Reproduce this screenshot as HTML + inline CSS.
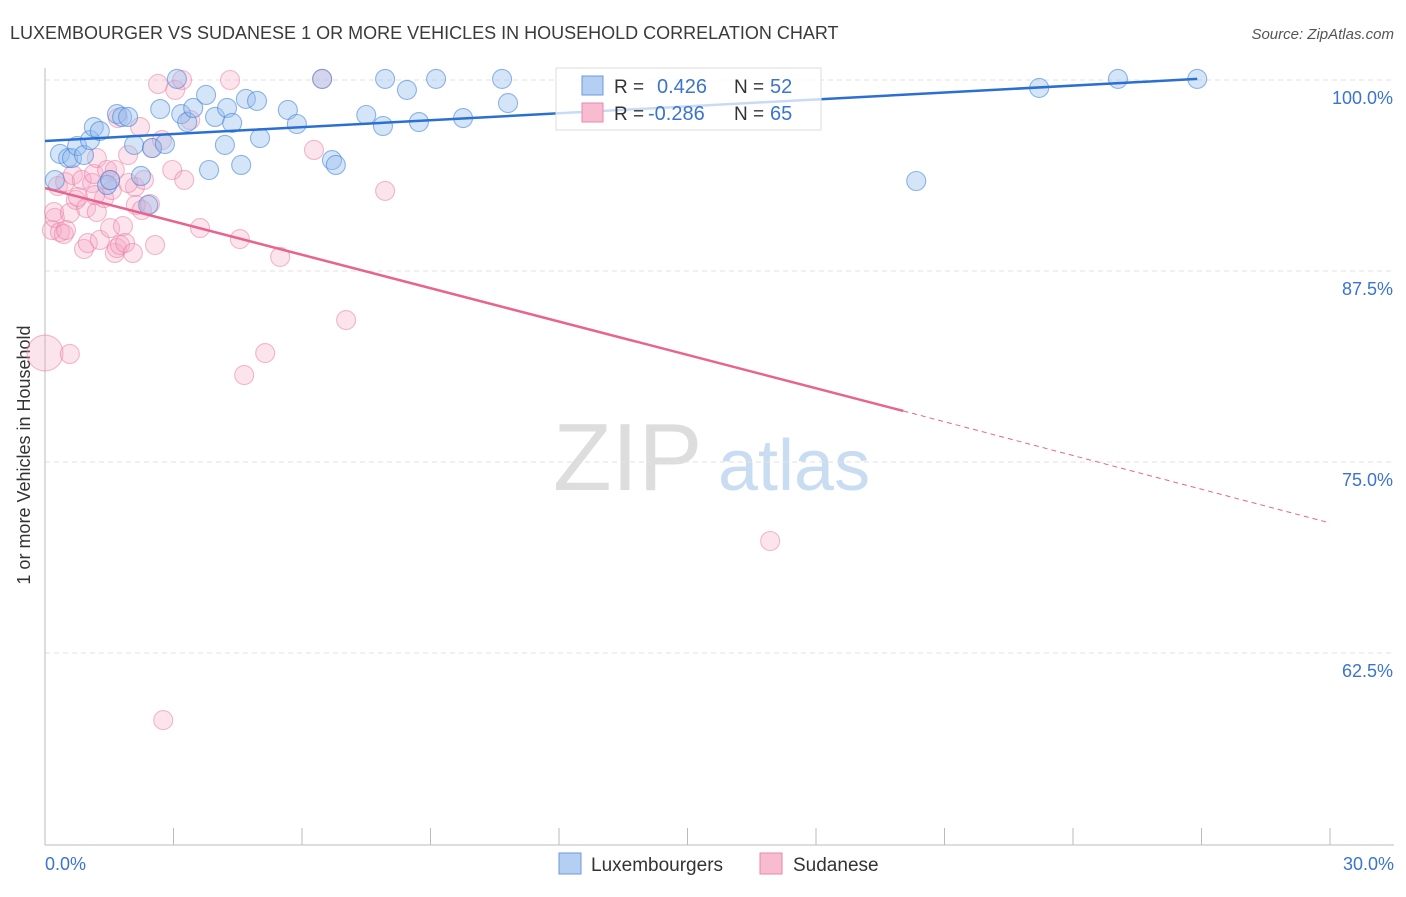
<!DOCTYPE html>
<html><head><meta charset="utf-8"><style>
body{margin:0;background:#fff;font-family:"Liberation Sans",sans-serif;}
svg text{font-family:"Liberation Sans",sans-serif;}
</style></head><body>
<svg id="c" width="1406" height="892">
<text x="10" y="39" font-size="18" fill="#3a3a3a">LUXEMBOURGER VS SUDANESE 1 OR MORE VEHICLES IN HOUSEHOLD CORRELATION CHART</text>
<text x="1394" y="39" font-size="15" fill="#555" font-style="italic" text-anchor="end">Source: ZipAtlas.com</text>
<text x="30" y="455" font-size="18" fill="#333" transform="rotate(-90 30 455)" text-anchor="middle">1 or more Vehicles in Household</text>
<g><text x="553" y="490" font-size="96" font-family="Liberation Serif,serif" fill="#ddd">ZIP</text><text x="718" y="490" font-size="72" fill="#c8dcf2">atlas</text></g>
<g id="grid"></g><g id="marks"></g><g id="lines"></g>
<g>
<rect x="556" y="68" width="265" height="62" fill="rgba(255,255,255,0.75)" stroke="#ddd"/>
<rect x="582" y="76" width="21" height="19" fill="#b4cff2" stroke="#6b9ae0"/>
<rect x="582" y="103" width="21" height="19" fill="#f7bcd0" stroke="#e889a9"/>
<text x="614" y="93" font-size="19" fill="#333">R = </text><text x="657" y="93" font-size="20" fill="#3b73d0">0.426</text>
<text x="734" y="93" font-size="19" fill="#333">N = </text><text x="770" y="93" font-size="20" fill="#3b73d0">52</text>
<text x="614" y="120" font-size="19" fill="#333">R = </text><text x="648" y="120" font-size="20" fill="#3b73d0">-0.286</text>
<text x="734" y="120" font-size="19" fill="#333">N = </text><text x="770" y="120" font-size="20" fill="#3b73d0">65</text>
</g>
<g>
<rect x="559" y="853" width="22" height="21" fill="#b4cff2" stroke="#6b9ae0"/><text x="591" y="871" font-size="19" fill="#333">Luxembourgers</text>
<rect x="760" y="853" width="22" height="21" fill="#f7bcd0" stroke="#e889a9"/><text x="793" y="871" font-size="19" fill="#333">Sudanese</text>
</g>
</svg>
<script>
const yTicks=[100,87.5,75,62.5];
const yTickLabels=["100.0%","87.5%","75.0%","62.5%"];
const xTickLabels=["0.0%","30.0%"];
const blueX=[.23,.35,.54,.63,.75,.91,1.05,1.14,1.28,1.68,1.80,1.94,1.45,1.52,2.08,2.24,2.41,2.50,2.80,2.69,3.08,3.18,3.32,3.46,3.76,3.83,3.97,4.20,4.25,4.37,4.58,4.69,4.95,5.02,5.67,5.88,6.47,6.70,6.79,7.50,7.89,7.94,8.45,8.73,9.13,9.76,10.67,10.81,20.34,23.21,25.05,26.90];
const blueY=[93.45,95.16,94.89,94.89,95.68,95.09,96.07,96.92,96.66,97.77,97.58,97.58,93.13,93.45,95.75,93.72,91.82,95.55,95.81,98.10,100.07,97.77,97.25,98.17,99.02,94.11,97.58,95.75,98.17,97.19,94.44,98.76,98.63,96.20,98.04,97.12,100.07,94.76,94.44,97.71,96.99,100.07,99.35,97.25,100.07,97.51,100.07,98.49,93.39,99.48,100.07,100.07];
const pinkX=[0,.16,.23,.21,.30,.35,.44,.47,.58,.58,.65,.72,.77,.86,.91,.96,1.00,1.10,1.14,1.21,1.21,1.28,1.38,1.45,1.52,1.56,1.63,1.68,1.70,1.75,1.82,1.87,1.94,2.05,2.10,2.12,2.22,2.26,2.31,2.50,2.57,2.64,2.73,2.76,2.97,3.04,3.20,3.25,3.39,3.62,4.32,4.55,4.65,5.14,5.49,6.28,6.47,7.03,7.94,16.93,1.94,1.17,1.63,2.45,1.52,.49];
const pinkY=[82.13,90.18,90.97,91.36,93.06,90.05,89.92,93.32,91.30,82.07,93.78,92.15,92.34,93.46,88.94,91.62,89.33,93.26,93.85,94.89,91.36,89.53,92.28,94.11,90.31,92.80,88.68,89.00,97.51,89.20,90.44,89.33,95.09,88.68,93.00,91.82,96.92,91.49,93.46,95.55,89.20,99.74,96.07,58.11,94.11,99.35,100,93.46,97.38,90.31,100,89.59,80.69,82.13,88.42,95.42,100.07,84.29,92.74,69.83,93.26,92.47,94.11,91.88,93.46,90.18];
const blueTrend=[[0,96.01],[26.9,100.07]];
const pinkTrend=[[0,92.93],[20.04,78.34],[30,71.01]];
const X=v=>45+v/30*1285, Y=v=>80+(100-v)/12.5*191;
const NS="http://www.w3.org/2000/svg";
function mk(tag,attrs,parent){const e=document.createElementNS(NS,tag);for(const k in attrs)e.setAttribute(k,attrs[k]);document.getElementById(parent).appendChild(e);return e;}
yTicks.forEach((t,i)=>{
 const l=mk('line',{x1:45,x2:1394,y1:Y(t),y2:Y(t),stroke:'#e2e2e2','stroke-dasharray':'5,4'},'grid');
 
 
 const tx=mk('text',{x:1393,y:Y(t)+24,'font-size':18,fill:'#3b73d0','text-anchor':'end'},'grid');tx.textContent=yTickLabels[i];
 
 
});
let a=mk('line',{x1:45,x2:45,y1:68,y2:845,stroke:'#bbb'},'grid');


a=mk('line',{x1:45,x2:1394,y1:845,y2:845,stroke:'#bbb'},'grid');


for(let k=0;k<=10;k++){const t=mk('line',{x1:X(k*3),x2:X(k*3),y1:828,y2:845,stroke:'#bbb'},'grid');
 
 }
[[0,'start',45],[30,'end',1394]].forEach((d,i)=>{const t=mk('text',{x:d[2],y:870,'font-size':18,fill:'#3b73d0','text-anchor':d[1]},'grid');t.textContent=xTickLabels[i];
 
 });
pinkX.forEach((x,i)=>{const c=mk('circle',{cx:X(x),cy:Y(pinkY[i]),r:i==0?18:9.5,fill:'rgba(244,166,194,0.3)',stroke:'rgba(232,120,160,0.5)','stroke-width':1.1},'marks');
 
 });
blueX.forEach((x,i)=>{const c=mk('circle',{cx:X(x),cy:Y(blueY[i]),r:9.5,fill:'rgba(150,190,238,0.4)',stroke:'rgba(60,125,215,0.55)','stroke-width':1.1},'marks');
 
 });
let l=mk('line',{x1:X(blueTrend[0][0]),y1:Y(blueTrend[0][1]),x2:X(blueTrend[1][0]),y2:Y(blueTrend[1][1]),stroke:'#2a6fd4','stroke-width':2.5},'lines');


l=mk('line',{x1:X(pinkTrend[0][0]),y1:Y(pinkTrend[0][1]),x2:X(pinkTrend[1][0]),y2:Y(pinkTrend[1][1]),stroke:'#e8648e','stroke-width':2.5},'lines');


l=mk('line',{x1:X(pinkTrend[1][0]),y1:Y(pinkTrend[1][1]),x2:X(pinkTrend[2][0]),y2:Y(pinkTrend[2][1]),stroke:'#e8648e','stroke-width':1,'stroke-dasharray':'5,4'},'lines');


</script>
</body></html>
